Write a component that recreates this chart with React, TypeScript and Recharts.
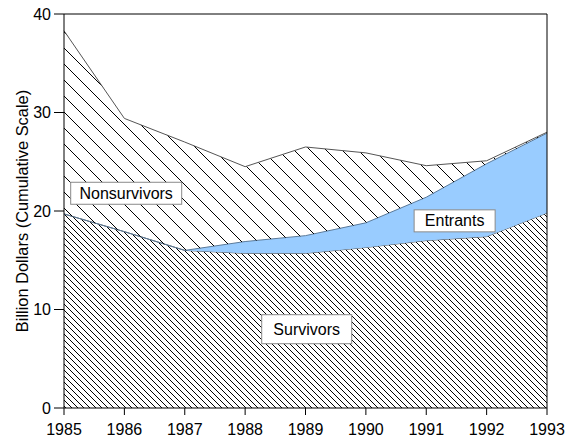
import { AreaChart, Area, XAxis, YAxis, ReferenceDot, ReferenceLine } from 'recharts';

// Cumulative market value, billion dollars
const years = [1985, 1986, 1987, 1988, 1989, 1990, 1991, 1992, 1993];
const survivors = [19.7, 17.9, 16.0, 15.7, 15.7, 16.3, 17.0, 17.4, 19.8];
const entrants = [0, 0, 0, 1.2, 1.8, 2.5, 4.4, 7.4, 8.1];
const nonsurvivors = [18.6, 11.5, 11.0, 7.6, 9.0, 7.1, 3.2, 0.3, 0.1];

const yTicks = [0, 10, 20, 30, 40];

// label boxes: [text, year, value, width, height]
const labels: Array<[string, number, number, number, number]> = [
  ['Nonsurvivors', 1986.03, 21.8, 111, 22],
  ['Entrants', 1991.47, 19.0, 81, 22],
  ['Survivors', 1989.02, 8.0, 90, 29],
];

const data = years.map((year, i) => ({
  year,
  survivors: survivors[i],
  entrants: entrants[i],
  nonsurvivors: nonsurvivors[i],
}));

const FONT = '"Liberation Sans", Arial, sans-serif';

const boxShape = (text: string, w: number, h: number) => (props: any) => {
  const { cx, cy } = props;
  return (
    <g>
      <rect x={cx - w / 2} y={cy - h / 2} width={w} height={h} fill="#ffffff" stroke="#8a8a8a" strokeWidth={1} />
      <text x={cx} y={cy} textAnchor="middle" dominantBaseline="central" fontSize={16} fontFamily={FONT} fill="#000">
        {text}
      </text>
    </g>
  );
};

const yLabel = (props: any) => {
  const { viewBox } = props;
  const cx = 22;
  const cy = viewBox.y + viewBox.height / 2;
  return (
    <text
      x={cx}
      y={cy}
      transform={`rotate(-90 ${cx} ${cy})`}
      textAnchor="middle"
      dominantBaseline="central"
      fontSize={16.4}
      fontFamily={FONT}
      fill="#000"
    >
      Billion Dollars (Cumulative Scale)
    </text>
  );
};

export default function App() {
  return (
    <div style={{ width: 571, height: 438, background: '#fff' }}>
      <style>{`body { margin: 0; }`}</style>
      <AreaChart
        width={571}
        height={438}
        data={data}
        margin={{ top: 14, right: 24, bottom: 0, left: 0 }}
        style={{ fontFamily: FONT }}
      >
        <defs>
          <pattern id="hatchSparse" patternUnits="userSpaceOnUse" width={16} height={16}>
            <path d="M0,0 L16,16 M-4,12 L4,20 M12,-4 L20,4" stroke="#000" strokeWidth={1} />
          </pattern>
          <pattern id="hatchDense" patternUnits="userSpaceOnUse" width={6} height={6}>
            <path d="M0,0 L6,6 M-2,4 L2,8 M4,-2 L8,2" stroke="#000" strokeWidth={1} />
          </pattern>
        </defs>
        <XAxis
          dataKey="year"
          type="number"
          domain={[1985, 1993]}
          ticks={years}
          tickSize={7}
          tickMargin={9}
          height={30}
          stroke="#000"
          tick={{ fill: '#000', fontSize: 16 }}
          allowDecimals={false}
        />
        <YAxis
          domain={[0, 40]}
          ticks={yTicks}
          tickSize={10}
          tickMargin={3}
          width={64}
          stroke="#000"
          tick={{ fill: '#000', fontSize: 16 }}
          label={{ content: yLabel }}
        />
        <Area
          type="linear"
          dataKey="survivors"
          stackId="1"
          stroke="#555"
          strokeWidth={1}
          fill="url(#hatchDense)"
          fillOpacity={1}
          isAnimationActive={false}
        />
        <Area
          type="linear"
          dataKey="entrants"
          stackId="1"
          stroke="#5a7a9a"
          strokeWidth={1}
          fill="#99ccff"
          fillOpacity={1}
          isAnimationActive={false}
        />
        <Area
          type="linear"
          dataKey="nonsurvivors"
          stackId="1"
          stroke="#555"
          strokeWidth={1}
          fill="url(#hatchSparse)"
          fillOpacity={1}
          isAnimationActive={false}
        />
        <ReferenceLine y={40} stroke="#000" strokeWidth={1} />
        <ReferenceLine x={1993} stroke="#000" strokeWidth={1} />
        {labels.map(([text, x, y, w, h]) => (
          <ReferenceDot key={text} x={x} y={y} r={0} shape={boxShape(text, w, h)} ifOverflow="visible" />
        ))}
      </AreaChart>
    </div>
  );
}
